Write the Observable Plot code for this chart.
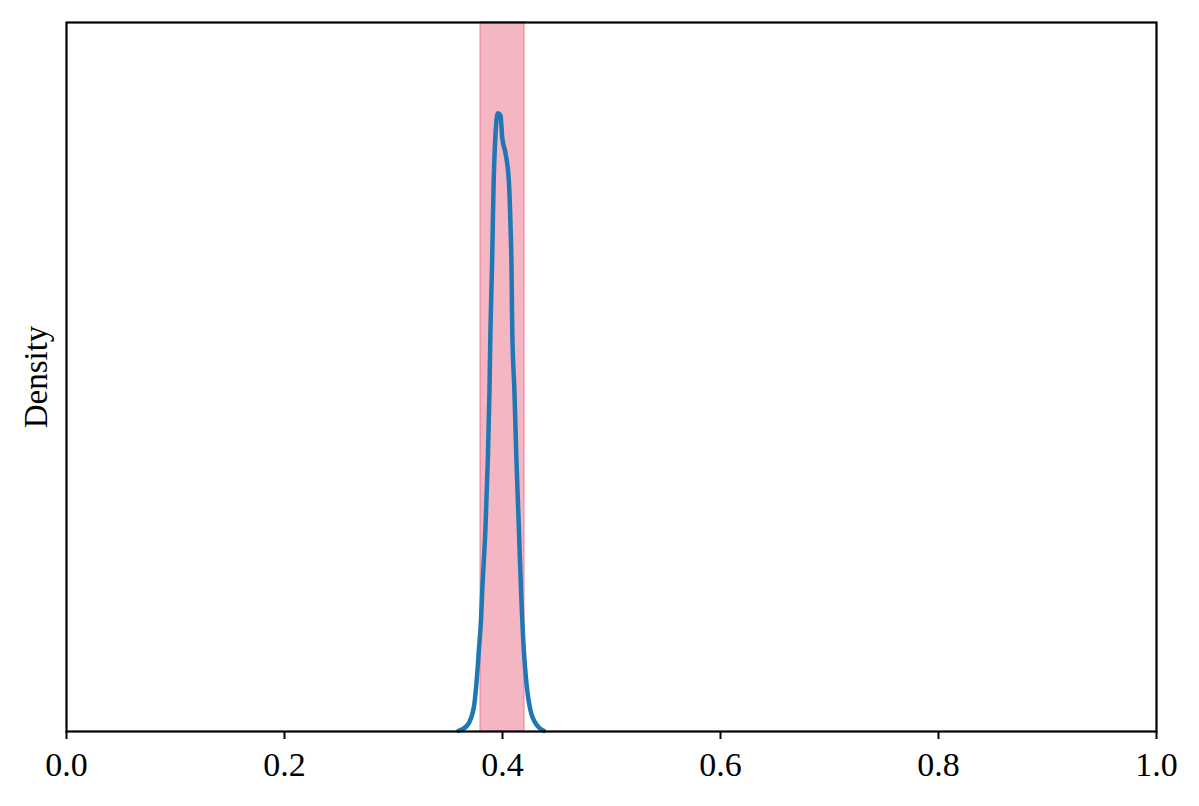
<!DOCTYPE html>
<html>
<head>
<meta charset="utf-8">
<script src="https://cdn.jsdelivr.net/npm/d3@7"></script>
<script src="https://cdn.jsdelivr.net/npm/@observablehq/plot@0.6"></script>
<style>
  html, body { margin: 0; padding: 0; background: #fff; }
  #chart { width: 1199px; height: 806px; }
  #chart svg text { font-family: 'Liberation Serif', 'DejaVu Serif', serif; }
</style>
</head>
<body>
<div id="chart"></div>
<script>
// Density curve (x = value, y = density, arbitrary units)
const curveX = [0.3596, 0.3676, 0.3737, 0.3761, 0.3783, 0.3804, 0.3813, 0.3844, 0.3865, 0.3880, 0.3890, 0.3905, 0.3917, 0.3936, 0.3957, 0.3982, 0.3997, 0.4028, 0.4058, 0.4073, 0.4083, 0.4089, 0.4110, 0.4128, 0.4150, 0.4171, 0.4196, 0.4220, 0.4257, 0.4318, 0.4379];
const curveY = [0.05, 0.42, 1.71, 3.39, 5.71, 8.06, 9.73, 14.41, 19.11, 23.84, 28.51, 33.22, 38.15, 42.17, 43.60, 43.44, 41.91, 40.76, 38.86, 35.83, 32.52, 28.51, 23.84, 19.11, 14.41, 9.73, 5.71, 3.39, 1.48, 0.42, 0.05];
// Shaded interval
const bandLow = [0.38];
const bandHigh = [0.42];
// X tick values
const xTicks = [0.0, 0.2, 0.4, 0.6, 0.8, 1.0];

const curve = curveX.map((x, i) => ({x, y: curveY[i]}));
const band = bandLow.map((lo, i) => ({lo, hi: bandHigh[i]}));

const chart = Plot.plot({
  width: 1199,
  height: 806,
  marginLeft: 66,
  marginRight: 43,
  marginTop: 22,
  marginBottom: 75,
  style: {fontFamily: "'Liberation Serif', serif", fontSize: "34px", color: "#000", background: "#fff"},
  x: {domain: [0, 1]},
  y: {domain: [0, 50]},
  marks: [
    Plot.rect(band, {x1: "lo", x2: "hi", fill: "#f4b6c3", stroke: "#ee93a8", strokeWidth: 1.5}),
    Plot.line(curve, {x: "x", y: "y", stroke: "#1f77b4", strokeWidth: 4.5, curve: "monotone-x"}),
    Plot.frame({stroke: "#000", strokeWidth: 2.2}),
    Plot.axisX({ticks: xTicks, tickFormat: d3.format(".1f"), tickSize: 8, tickPadding: 12, strokeWidth: 2, label: null, fontSize: 34}),
    Plot.axisY({ticks: [], label: "Density", labelAnchor: "center", labelOffset: 43, labelArrow: "none", fontSize: 33})
  ]
});
document.getElementById("chart").appendChild(chart);
</script>
</body>
</html>
